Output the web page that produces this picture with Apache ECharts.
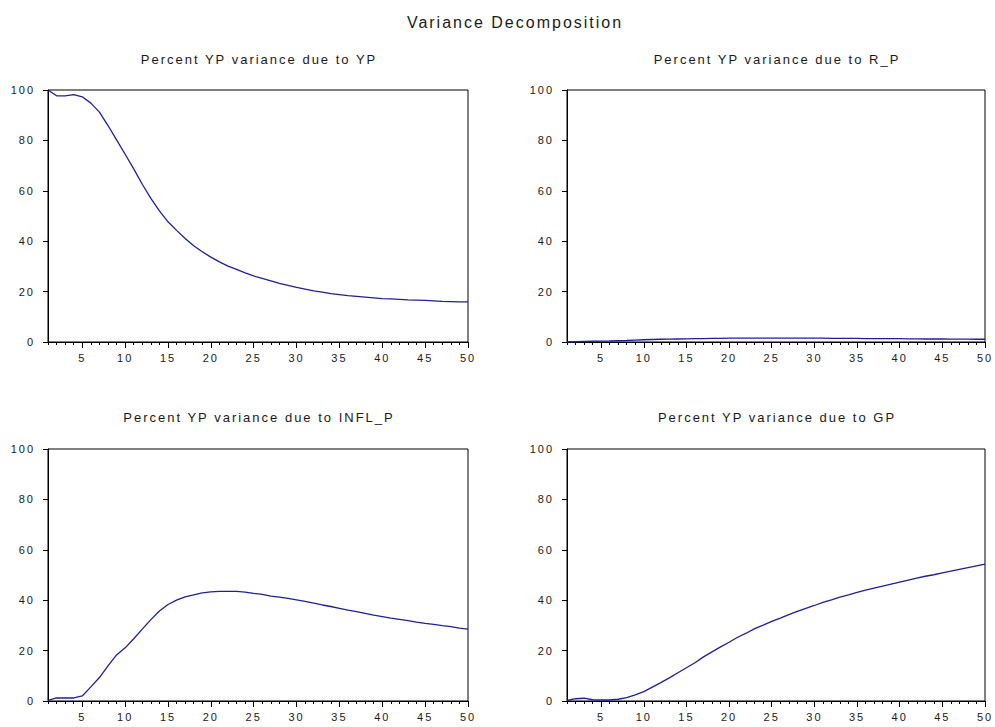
<!DOCTYPE html>
<html>
<head>
<meta charset="utf-8">
<title>Variance Decomposition</title>
<script src="https://cdn.jsdelivr.net/npm/echarts@6/dist/echarts.min.js"></script>
<style>
	html, body { margin: 0; padding: 0; background: #fff; }
	#main { width: 995px; height: 727px; }
	/* EViews draws its text with wide letter spacing */
	#main text { letter-spacing: 2px; }
</style>
</head>
<body>
<div id="main"></div>
<script>
// periods on the x axis
const periods = [
	"1", "2", "3", "4", "5", "6", "7", "8", "9", "10",
	"11", "12", "13", "14", "15", "16", "17", "18", "19", "20",
	"21", "22", "23", "24", "25", "26", "27", "28", "29", "30",
	"31", "32", "33", "34", "35", "36", "37", "38", "39", "40",
	"41", "42", "43", "44", "45", "46", "47", "48", "49", "50",
];
const yTicks = [0, 20, 40, 60, 80, 100];

// percent of YP variance explained by each shock
const dueToYP = [
	100, 97.7, 97.7, 98.2, 97.3, 94.8, 91.2, 85.9, 80.2, 74.5,
	68.7, 62.6, 57.0, 52.0, 47.7, 44.3, 41.1, 38.2, 35.8, 33.7,
	31.8, 30.1, 28.8, 27.4, 26.2, 25.2, 24.3, 23.3, 22.5, 21.7,
	21.0, 20.3, 19.8, 19.2, 18.8, 18.4, 18.1, 17.8, 17.5, 17.2,
	17.1, 16.9, 16.7, 16.6, 16.5, 16.3, 16.1, 16.0, 15.9, 15.9,
];
const dueToRP = [
	0, 0.1, 0.2, 0.3, 0.35, 0.4, 0.5, 0.6, 0.75, 0.9,
	1.0, 1.1, 1.15, 1.2, 1.25, 1.3, 1.35, 1.4, 1.45, 1.5,
	1.5, 1.55, 1.55, 1.55, 1.55, 1.55, 1.55, 1.5, 1.5, 1.5,
	1.5, 1.45, 1.45, 1.4, 1.4, 1.35, 1.35, 1.3, 1.3, 1.3,
	1.25, 1.25, 1.2, 1.2, 1.2, 1.15, 1.15, 1.15, 1.1, 1.1,
];
const dueToINFL = [
	0.2, 1.2, 1.2, 1.2, 2.0, 5.6, 9.3, 13.9, 18.3, 21.1,
	24.7, 28.5, 32.3, 35.7, 38.3, 40.0, 41.3, 42.1, 42.9, 43.3,
	43.5, 43.5, 43.5, 43.2, 42.7, 42.3, 41.6, 41.2, 40.7, 40.1,
	39.5, 38.8, 38.1, 37.5, 36.8, 36.1, 35.5, 34.8, 34.1, 33.5,
	32.9, 32.4, 31.9, 31.3, 30.8, 30.4, 29.9, 29.5, 28.9, 28.5,
];
const dueToGP = [
	0.2, 0.9, 1.1, 0.5, 0.4, 0.4, 0.7, 1.3, 2.4, 3.7,
	5.5, 7.3, 9.2, 11.2, 13.2, 15.2, 17.5, 19.5, 21.5, 23.3,
	25.3, 26.9, 28.7, 30.1, 31.6, 32.9, 34.3, 35.6, 36.8, 37.9,
	39.1, 40.1, 41.2, 42.1, 43.1, 44.0, 44.8, 45.6, 46.4, 47.2,
	48.0, 48.8, 49.5, 50.1, 50.8, 51.5, 52.2, 52.9, 53.6, 54.3,
];

const mainTitle = "Variance Decomposition";
const panelTitles = [
	"Percent YP variance due to YP",
	"Percent YP variance due to R_P",
	"Percent YP variance due to INFL_P",
	"Percent YP variance due to GP",
];
const panelData = [dueToYP, dueToRP, dueToINFL, dueToGP];

// plot boxes (pixels)
const boxes = [
	{ left: 48, top: 90, width: 420, height: 252, cx: 259, ty: 53 },
	{ left: 567, top: 90, width: 418, height: 252, cx: 777, ty: 53 },
	{ left: 48, top: 449, width: 420, height: 252, cx: 259, ty: 411 },
	{ left: 567, top: 449, width: 418, height: 252, cx: 777, ty: 411 },
];

const lineColor = "#1f1f9c";
const textColor = "#1a1a1a";
const font = "'Liberation Sans', Arial, sans-serif";
const isMajor = (idx, val) => Number(val) % 5 === 0;

const titles = [{
	text: mainTitle,
	left: 515,
	top: 14,
	padding: 0,
	textAlign: "center",
	textStyle: { fontSize: 16, fontWeight: "normal", color: textColor, fontFamily: font },
}];
const grids = [];
const xAxes = [];
const yAxes = [];
const series = [];

boxes.forEach((b, i) => {
	titles.push({
		text: panelTitles[i],
		left: b.cx,
		top: b.ty,
		padding: 0,
		textAlign: "center",
		textStyle: { fontSize: 13, fontWeight: "normal", color: textColor, fontFamily: font },
	});
	grids.push({
		left: b.left,
		top: b.top,
		width: b.width,
		height: b.height,
		show: true,
		borderColor: "#000",
		borderWidth: 1,
		containLabel: false,
	});
	// short ticks on every period + labels
	xAxes.push({
		type: "category",
		gridIndex: i,
		position: "bottom",
		data: periods,
		boundaryGap: false,
		axisLine: { onZero: false, lineStyle: { color: "#000", width: 1 } },
		axisTick: { interval: 0, length: 3, lineStyle: { color: "#000" } },
		axisLabel: {
			interval: isMajor,
			margin: 10,
			fontSize: 11,
			color: textColor,
			fontFamily: font,
		},
		splitLine: { show: false },
	});
	// long ticks every 5 periods
	xAxes.push({
		type: "category",
		gridIndex: i,
		position: "bottom",
		data: periods,
		boundaryGap: false,
		axisLine: { show: false, onZero: false },
		axisTick: { interval: isMajor, length: 6, lineStyle: { color: "#000" } },
		axisLabel: { show: false },
		splitLine: { show: false },
	});
	yAxes.push({
		type: "value",
		gridIndex: i,
		min: yTicks[0],
		max: yTicks[yTicks.length - 1],
		interval: yTicks[1] - yTicks[0],
		axisLine: { show: true, lineStyle: { color: "#000", width: 1 } },
		axisTick: { show: true, length: 5, lineStyle: { color: "#000" } },
		axisLabel: { margin: 13, fontSize: 11, color: textColor, fontFamily: font },
		splitLine: { show: false },
	});
	series.push({
		name: panelTitles[i],
		type: "line",
		xAxisIndex: i * 2,
		yAxisIndex: i,
		data: panelData[i],
		showSymbol: false,
		lineStyle: { color: lineColor, width: 1.3 },
		itemStyle: { color: lineColor },
	});
});

const chart = echarts.init(document.getElementById("main"), null, { renderer: "svg" });
chart.setOption({
	backgroundColor: "#fff",
	animation: false,
	title: titles,
	grid: grids,
	xAxis: xAxes,
	yAxis: yAxes,
	series: series,
});
</script>
</body>
</html>
